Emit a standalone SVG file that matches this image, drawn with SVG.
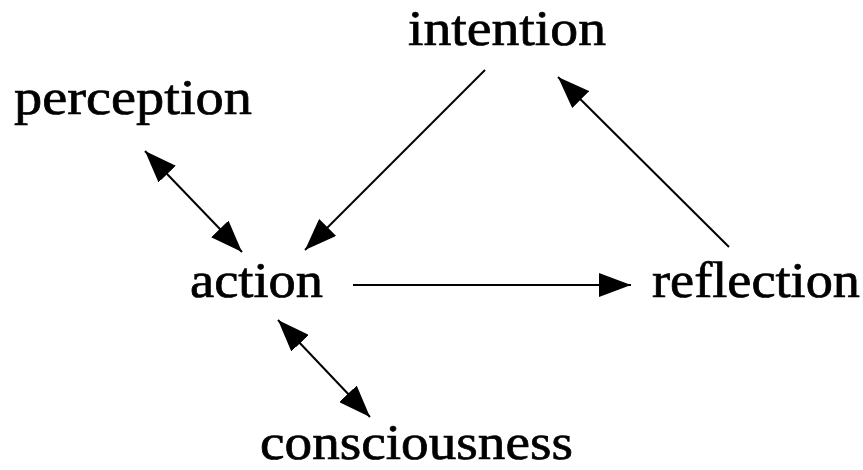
<svg xmlns="http://www.w3.org/2000/svg" width="863" height="470" viewBox="0 0 863 470">
<style>
text{font-family:"Liberation Serif","DejaVu Serif",serif;font-size:50px;fill:#000;stroke:#000;stroke-width:0.7}
.c{stroke:#000;stroke-width:2;fill:none}
</style>
<defs>
<marker id="ah" viewBox="0 0 32 24" refX="32" refY="12" markerWidth="32" markerHeight="24" markerUnits="userSpaceOnUse" orient="auto-start-reverse">
<path d="M0,0 L32,12 L0,24 z" fill="#000"/>
</marker>
</defs>
<rect width="863" height="470" fill="#fff"/>
<g id="intention"><text x="408" y="45" textLength="198" lengthAdjust="spacingAndGlyphs">intention</text></g>
<g id="perception"><text x="14" y="114" textLength="238" lengthAdjust="spacingAndGlyphs">perception</text></g>
<g id="action"><text x="190" y="297" textLength="133" lengthAdjust="spacingAndGlyphs">action</text></g>
<g id="reflection"><text x="652" y="297" textLength="208" lengthAdjust="spacingAndGlyphs">reflection</text></g>
<g id="consciousness"><text x="260" y="459" textLength="313" lengthAdjust="spacingAndGlyphs">consciousness</text></g>
<g id="connectors">
<line class="c" x1="353" y1="285" x2="631" y2="285" marker-end="url(#ah)"/>
<line class="c" x1="145" y1="151" x2="242" y2="252" marker-start="url(#ah)" marker-end="url(#ah)"/>
<line class="c" x1="278" y1="320" x2="370" y2="417" marker-start="url(#ah)" marker-end="url(#ah)"/>
<line class="c" x1="485" y1="70" x2="305" y2="250" marker-end="url(#ah)"/>
<line class="c" x1="729" y1="247" x2="558" y2="77" marker-end="url(#ah)"/>
</g>
</svg>
